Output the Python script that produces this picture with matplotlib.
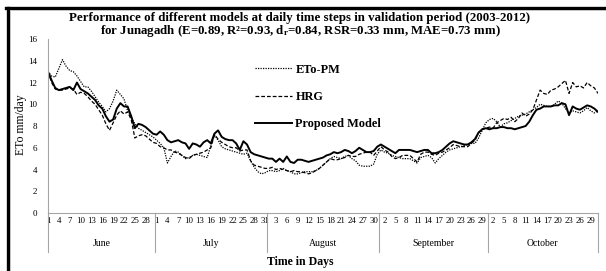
import matplotlib
matplotlib.use("Agg")
import matplotlib.pyplot as plt
from matplotlib.lines import Line2D
import numpy as np

plt.rcParams['font.family'] = ['Liberation Serif', 'DejaVu Serif']
plt.rcParams['mathtext.fontset'] = 'custom'
plt.rcParams['mathtext.bf'] = 'Liberation Serif:bold'
plt.rcParams['mathtext.rm'] = 'Liberation Serif'
plt.rcParams['mathtext.default'] = 'bf'

months = ['June', 'July', 'August', 'September', 'October']
month_days = [30, 31, 31, 30, 31]

eto_pm = [13.0, 12.6, 12.5, 13.3, 14.1, 13.5, 13.1, 13.0, 12.6, 12.1,
          11.6, 11.6, 11.2, 10.7, 10.2, 9.8, 9.3, 9.6, 10.3, 11.3,
          10.9, 10.5, 9.4, 8.8, 8.2, 7.8, 7.6, 7.4, 7.2, 7.0,
          6.7, 6.4, 6.0, 4.6, 5.2, 5.7, 5.6, 5.3, 5.0, 5.1,
          5.3, 5.4, 5.3, 5.2, 5.1, 6.2, 7.2, 6.7, 6.1, 5.9,
          5.8, 5.7, 5.6, 5.5, 5.4, 5.5, 4.8, 4.2, 3.8, 3.6,
          3.7, 3.9, 3.9, 3.8, 3.9, 4.1, 3.9, 3.8, 3.6, 3.6,
          3.7, 3.8, 3.8, 3.8, 3.9, 4.1, 4.4, 4.7, 5.0, 5.2,
          5.1, 5.0, 5.2, 5.3, 5.0, 4.8, 4.4, 4.3, 4.3, 4.3,
          4.5, 5.4, 5.8, 5.6, 5.5, 5.3, 5.2, 5.1, 5.0, 5.0,
          5.0, 4.8, 4.6, 5.1, 5.2, 5.3, 5.1, 4.6, 5.0, 5.3,
          5.6, 5.8, 5.9, 6.0, 6.1, 6.2, 6.3, 6.4, 6.4, 6.9,
          7.6, 8.3, 8.6, 8.7, 8.4, 7.9, 8.2, 8.3, 8.5, 8.7,
          8.9, 9.0, 9.1, 9.3, 9.5, 9.7, 10.0, 9.9, 9.8, 9.8,
          10.0, 10.3, 10.1, 9.6, 9.2, 9.4, 9.3, 9.2, 9.4, 9.7, 9.4, 9.2, 9.4]

hrg = [13.0, 12.0, 11.4, 11.3, 11.3, 11.4, 11.5, 11.4, 10.9, 11.1,
       11.0, 10.7, 10.3, 10.0, 9.5, 9.0, 8.2, 7.6, 8.3, 9.0,
       9.4, 9.1, 9.3, 8.6, 6.9, 7.1, 7.2, 7.1, 6.8, 6.5,
       6.4, 6.1, 6.0, 5.8, 5.8, 5.6, 5.5, 5.3, 5.1, 5.0,
       5.3, 5.4, 5.5, 5.6, 5.8, 6.0, 7.2, 6.8, 6.5, 6.3,
       6.1, 6.0, 6.0, 5.7, 5.8, 5.8, 4.8, 4.4, 4.3, 4.2,
       4.1, 4.1, 4.2, 4.0, 4.1, 4.0, 3.9, 3.8, 3.9, 3.8,
       3.8, 3.7, 3.6, 3.7, 3.9, 4.1, 4.4, 4.7, 5.0, 4.9,
       4.9, 5.0, 5.1, 5.3, 5.2, 5.2, 5.4, 5.5, 5.6, 5.6,
       5.3, 5.7, 6.1, 5.8, 5.6, 5.2, 5.0, 5.1, 5.3, 5.3,
       5.3, 5.0, 4.7, 5.4, 5.6, 5.6, 5.4, 5.3, 5.5, 5.6,
       5.8, 6.0, 6.3, 6.2, 6.1, 6.1, 6.1, 6.4, 6.7, 7.4,
       7.7, 7.8, 7.9, 7.8, 8.3, 8.5, 8.7, 8.6, 8.8, 8.4,
       8.7, 9.2, 8.9, 9.1, 9.5, 10.4, 11.3, 11.0, 10.9, 11.3,
       11.4, 11.6, 11.9, 12.2, 11.0, 12.0, 11.6, 11.7, 11.5, 12.0, 11.7, 11.5, 11.0]

proposed = [13.0, 12.2, 11.5, 11.3, 11.4, 11.5, 11.6, 11.3, 12.0, 11.4,
            11.2, 11.0, 10.7, 10.4, 9.9, 9.6, 8.9, 8.4, 8.6, 9.6,
            10.1, 9.8, 9.8, 8.9, 7.8, 8.2, 8.1, 7.9, 7.6, 7.3,
            7.2, 7.5, 7.2, 6.7, 6.5, 6.6, 6.7, 6.5, 6.4, 5.9,
            6.4, 6.3, 6.1, 6.5, 6.7, 6.4, 7.3, 7.6, 7.0, 6.8,
            6.7, 6.7, 6.4, 5.8, 6.6, 6.3, 5.6, 5.4, 5.3, 5.2,
            5.1, 5.0, 5.0, 4.7, 5.0, 4.7, 5.2, 4.7, 4.6, 4.9,
            4.9, 4.8, 4.7, 4.8, 4.9, 5.0, 5.1, 5.3, 5.4, 5.6,
            5.5, 5.6, 5.8, 5.7, 5.5, 5.7, 6.0, 5.8, 5.6, 5.6,
            5.7, 6.1, 6.3, 6.1, 5.9, 5.7, 5.5, 5.8, 5.8, 5.8,
            5.8, 5.7, 5.6, 5.7, 5.8, 5.8, 5.5, 5.5, 5.6, 5.8,
            6.1, 6.4, 6.6, 6.5, 6.4, 6.3, 6.3, 6.5, 6.8, 7.4,
            7.7, 7.8, 7.7, 7.8, 7.8, 7.9, 7.9, 7.8, 7.8, 7.7,
            7.8, 7.9, 8.0, 8.4, 9.0, 9.5, 9.6, 9.8, 9.8, 9.8,
            9.9, 9.9, 10.1, 10.0, 9.0, 9.8, 9.6, 9.5, 9.7, 9.9, 9.8, 9.6, 9.3]

# day numbers for every category
days = []
for n in month_days:
    days += list(range(1, n + 1))
x = np.arange(len(days))

fig = plt.figure(figsize=(6.06, 2.71), dpi=100)
ax = fig.add_axes([0.0792, 0.214, 0.9076, 0.642])

ax.plot(x, eto_pm, color='black', lw=0.9, ls=(0, (1, 1)), label='ETo-PM')
ax.plot(x, hrg, color='black', lw=0.9, ls=(0, (3, 1.6)), label='HRG')
ax.plot(x, proposed, color='black', lw=1.4, label='Proposed Model')

ax.set_xlim(0, len(days) - 1)
ax.set_ylim(0, 16)
ax.set_yticks(range(0, 17, 2))
ax.tick_params(axis='y', length=0, pad=8, labelsize=6.5)
ax.set_xticks(x[::3])
ax.set_xticklabels([str(d) for d in days[::3]])
ax.tick_params(axis='x', length=0, pad=3, labelsize=6.3)

for s in ['top', 'right']:
    ax.spines[s].set_visible(False)
for s in ['left', 'bottom']:
    ax.spines[s].set_color('#a6a6a6')
    ax.spines[s].set_linewidth(0.8)

# month level of the category axis
edges = np.concatenate([[0], np.cumsum(month_days) - 0.5])
edges[-1] = len(days) - 1
trans = ax.get_xaxis_transform()
for e in edges:
    ax.plot([e, e], [0, -0.225], color='#a6a6a6', lw=0.8, transform=trans, clip_on=False)
for i, m in enumerate(months):
    ax.text((edges[i] + edges[i + 1]) / 2, -0.175, m, transform=trans,
            ha='center', va='center', fontsize=7)

fig.text(21 / 606, 0.54, 'ETo mm/day', rotation=90, ha='center', va='center', fontsize=8.5)
fig.text(0.495, 0.033, 'Time in Days', ha='center', va='center', fontsize=8.5, fontweight='bold')

fig.text(0.495, 0.932, 'Performance of different models at daily time steps in validation period (2003-2012)',
         ha='center', va='center', fontsize=9.3, fontweight='bold')
fig.text(0.495, 0.886, 'for Junagadh (E=0.89, R\u00b2=0.93, d$_r$=0.84, RSR=0.33 mm, MAE=0.73 mm)',
         ha='center', va='center', fontsize=9.3, fontweight='bold')

leg = ax.legend(loc='upper left', bbox_to_anchor=(0.4208, 0.765), bbox_transform=fig.transFigure,
                frameon=False, handlelength=3.0, handletextpad=0.3, labelspacing=1.25,
                borderpad=0, borderaxespad=0, prop={'size': 8.8, 'weight': 'bold'})

# outer frame (thick black left and top, thin grey inside)
fig.add_artist(Line2D([7.5 / 606, 7.5 / 606], [0, 1 - 7.5 / 271], color='black', lw=2.4))
fig.add_artist(Line2D([6 / 606, 1], [1 - 7.5 / 271, 1 - 7.5 / 271], color='black', lw=2.4))
fig.add_artist(Line2D([10 / 606, 10 / 606], [0, 1 - 10 / 271], color='#c0c0c0', lw=0.6))
fig.add_artist(Line2D([10 / 606, 1], [1 - 10 / 271, 1 - 10 / 271], color='#c0c0c0', lw=0.6))

fig.savefig('out.png', dpi=100)
